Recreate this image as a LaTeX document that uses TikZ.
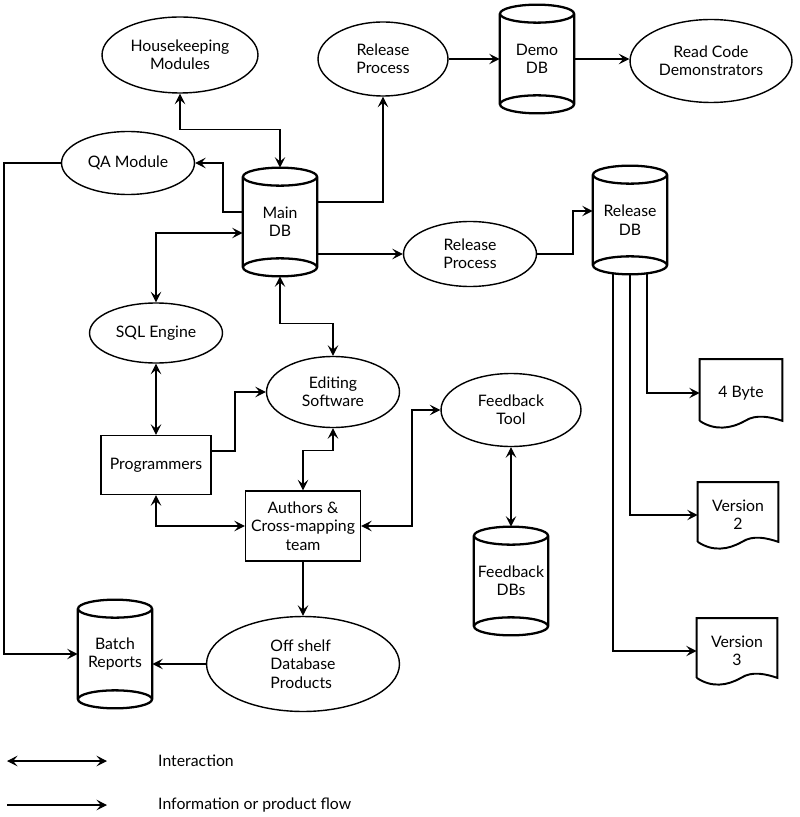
\documentclass[tikz,border=0pt]{standalone}
\usepackage{fontspec}
\setmainfont{Lato}
\usetikzlibrary{shapes.geometric,arrows.meta,calc}

\tikzset{
	proc/.style={ellipse, draw, line width=0.8pt, align=center, inner sep=0pt},
	team/.style={rectangle, draw, line width=0.8pt, align=center, inner sep=0pt},
	dbnode/.style={rectangle, minimum width=1.48cm, minimum height=2.16cm, align=center, inner sep=0pt},
	docnode/.style={rectangle, minimum width=1.6cm, minimum height=1.3cm, align=center, inner sep=0pt},
	dbline/.style={line width=1.3pt},
	docline/.style={line width=1.1pt},
	flow/.style={-{Stealth[length=6pt,width=6pt,inset=2.5pt]}, line width=0.6pt},
	inter/.style={{Stealth[length=6pt,width=6pt,inset=2.5pt]}-{Stealth[length=6pt,width=6pt,inset=2.5pt]}, line width=0.6pt}
}

\begin{document}
\begin{tikzpicture}[x=0.02cm, y=-0.02cm, font=\fontsize{9}{10.5}\selectfont]
	\useasboundingbox (0,0) rectangle (800,817);
	% processes and teams
	\node[proc, minimum width=3.12cm, minimum height=1.52cm] (hk) at (180,55) {Housekeeping\\Modules};
	\node[proc, minimum width=2.6cm, minimum height=1.48cm] (relt) at (383,59) {Release\\Process};
	\node[proc, minimum width=3.24cm, minimum height=1.66cm] (rcd) at (711,61) {Read Code\\Demonstrators};
	\node[proc, minimum width=2.66cm, minimum height=1.26cm] (qa) at (128,163) {QA Module};
	\node[proc, minimum width=2.66cm, minimum height=1.3cm] (relm) at (470,254) {Release\\Process};
	\node[proc, minimum width=2.66cm, minimum height=1.2cm] (sql) at (156,333) {SQL Engine};
	\node[proc, minimum width=2.66cm, minimum height=1.42cm] (edit) at (333,392) {Editing\\Software};
	\node[proc, minimum width=2.8cm, minimum height=1.46cm] (fbt) at (511,410) {Feedback\\Tool};
	\node[proc, minimum width=3.86cm, minimum height=1.9cm, align=left] (off) at (303,664) {Off shelf\\Database\\Products};
	\node[team, minimum width=2.2cm, minimum height=1.18cm] (prog) at (156,465) {Programmers};
	\node[team, minimum width=2.3cm, minimum height=1.4cm] (auth) at (303,526) {Authors \&\\Cross-mapping\\team};
	% databases
	\node[dbnode] (main) at (280,222) {Main\\DB};
	\node[dbnode] (demo) at (537,59) {Demo\\DB};
	\node[dbnode] (reldb) at (630,220) {Release\\DB};
	\node[dbnode] (fbdb) at (511,581) {Feedback\\DBs};
	\node[dbnode] (batch) at (115,654) {Batch\\Reports};
	\foreach \c in {main,demo,reldb,fbdb,batch}
		\draw[dbline] ($(\c.north)+(0,9)$) ellipse [x radius=0.74cm, y radius=0.18cm]
			($(\c.south)+(0,-9)$) ellipse [x radius=0.74cm, y radius=0.18cm]
			($(\c.north west)+(0,9)$) -- ($(\c.south west)+(0,-9)$)
			($(\c.north east)+(0,9)$) -- ($(\c.south east)+(0,-9)$);
	% documents
	\node[docnode, minimum width=1.64cm, minimum height=1.34cm] (byte) at (741,393) {4 Byte};
	\node[docnode] (ver2) at (738,515) {Version\\2};
	\node[docnode] (ver3) at (737,651) {Version\\3};
	\foreach \d in {byte,ver2,ver3}
		\draw[docline] ($(\d.south west)+(0,-6)$) -- (\d.north west) -- (\d.north east) -- ($(\d.south east)+(0,-6)$)
			.. controls +(-12,-4) and +(11,-7) .. ($(\d.south)+(4,-6)$)
			.. controls +(-14,8) and +(15,10) .. ($(\d.south west)+(0,-6)$);
	% connectors
	\draw[inter] (hk.south) -- ++(0,36) -| (main.north);
	\draw[flow] (main.west |- 0,212) -- (223,212) |- (qa.east);
	\draw[flow] (main.east |- 0,202) -| (relt.south);
	\draw[flow] (relt.east) -- (demo.west);
	\draw[flow] (demo.east) -- (demo.east -| rcd.west);
	\draw[flow] (main.east |- relm.west) -- (relm.west);
	\draw[flow] (relm.east) -| (573,211) -- (reldb.west |- 0,211);
	\draw[flow] (reldb.south -| 647,0) |- (byte.west);
	\draw[flow] (reldb.south) |- (ver2.west);
	\draw[flow] (reldb.south -| 613,0) |- (ver3.west);
	\draw[flow] (qa.west) -- (qa.west -| 4,0) |- (batch.west);
	\draw[inter] (main.west |- 0,233) -| (sql.north);
	\draw[inter] (main.south) -- ++(0,47) -| (edit.north);
	\draw[inter] (sql.south) -- (prog.north);
	\draw[flow] (prog.east |- 0,451) -- (235,451) |- (edit.west);
	\draw[inter] (edit.south) -- ++(0,22) -| (auth.north);
	\draw[inter] (prog.south) |- (auth.west);
	\draw[inter] (auth.east) -- (auth.east -| 412,0) |- (fbt.west);
	\draw[inter] (fbt.south) -- (fbdb.north);
	\draw[flow] (auth.south) -- (off.north);
	\draw[flow] (off.west) -- (off.west -| batch.east);
	% legend
	\coordinate (ia) at (7,761);
	\coordinate (ib) at (107,761);
	\coordinate (fa) at (7,805);
	\coordinate (fb) at (107,805);
	\draw[inter] (ia) -- (ib);
	\draw[flow] (fa) -- (fb);
	\node[anchor=west] (lint) at (152,761) {Interaction};
	\node[anchor=west] (lflow) at (152,805) {Information or product flow};
\end{tikzpicture}
\end{document}
